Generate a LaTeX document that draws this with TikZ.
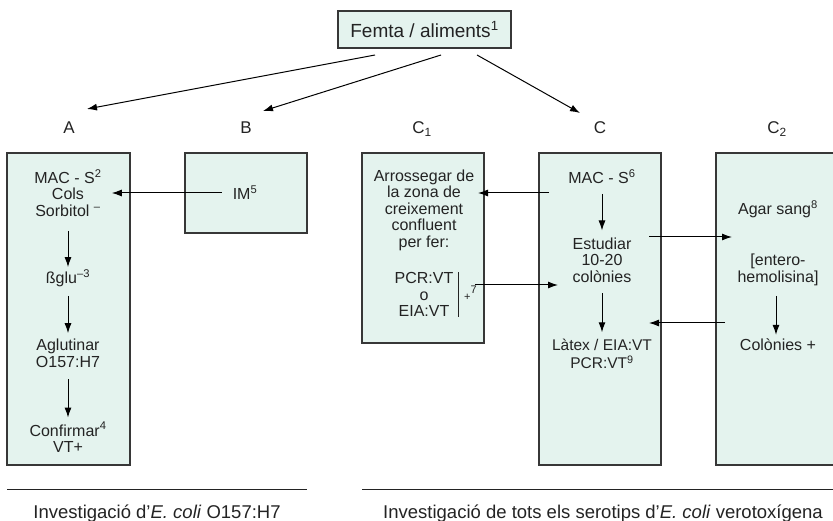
\documentclass[tikz,border=0pt]{standalone}
\usepackage{fontspec}
\setmainfont{Liberation Sans}
\usetikzlibrary{arrows.meta}
\definecolor{boxfill}{RGB}{228,243,238}
\definecolor{boxline}{RGB}{55,55,55}
\definecolor{ink}{RGB}{35,35,35}
\begin{document}
\begin{tikzpicture}[x=1pt,y=-1pt,
  panel/.style={draw=boxline, line width=1.2pt, fill=boxfill, inner sep=0pt, outer sep=0pt, anchor=north west},
  txt/.style={font=\fontsize{16}{16.5}\selectfont, align=center, inner sep=0pt, text=ink},
  lab/.style={font=\fontsize{17}{17}\selectfont, inner sep=0pt, anchor=base, text=ink},
  captext/.style={font=\fontsize{18.5}{18.5}\selectfont, inner sep=0pt, anchor=base, text=ink},
  arr/.style={-{Latex[length=10pt,width=7pt]}, line width=1pt, draw=black},
  rulest/.style={line width=1pt, draw=ink},
]
\useasboundingbox (0,0) rectangle (833,521);

% top box
\node[panel, anchor=center, minimum width=173pt, minimum height=37pt,
      font=\fontsize{19}{19}\selectfont, text=ink] (top) at (424.5,29.5) {Femta / aliments\textsuperscript{1}};

% labels
\node[lab] (lA)  at (69,134)  {A};
\node[lab] (lB)  at (246,134) {B};
\node[lab] (lC1) at (422,134) {C\textsubscript{1}};
\node[lab] (lC)  at (600,134) {C};
\node[lab] (lC2) at (777,134) {C\textsubscript{2}};

% arrows from top
\coordinate (sA) at (375,55);  \coordinate (eA) at (87,109);
\coordinate (sB) at (441,55);  \coordinate (eB) at (263,111);
\coordinate (sC) at (477,55);  \coordinate (eC) at (580,113);
\draw[arr] (sA) -- (eA);
\draw[arr] (sB) -- (eB);
\draw[arr] (sC) -- (eC);

% panels
\node[panel, minimum width=123pt, minimum height=312pt] (pA)  at (7,153) {};
\node[panel, minimum width=122pt, minimum height=80pt]  (pB)  at (185,153) {};
\node[panel, minimum width=122pt, minimum height=190pt] (pC1) at (362,153) {};
\node[panel, minimum width=122pt, minimum height=312pt] (pC)  at (539,153) {};
\node[panel, minimum width=140pt, minimum height=312pt] (pC2) at (716,153) {};

% A column
\node[txt] (a1) at (68,193)   {MAC - S\textsuperscript{2}\\Cols\\Sorbitol \textsuperscript{–}};
\node[txt] (a2) at (68,278)   {ßglu\textsuperscript{–3}};
\node[txt] (a3) at (68,353.5) {Aglutinar\\O157:H7};
\node[txt] (a4) at (68,437.5) {Confirmar\textsuperscript{4}\\VT+};
\draw[arr, shorten <=14pt, shorten >=2pt] (a1) -- (a2);
\draw[arr, shorten <=9pt, shorten >=6pt] (a2) -- (a3);
\draw[arr, shorten <=11.5pt, shorten >=4.5pt] (a3) -- (a4);

% B
\node[txt] (b1) at (245,193) {IM\textsuperscript{5}};
\draw[arr, shorten <=11pt, shorten >=10pt] (b1) -- (a1);

% C1
\node[txt] (k1) at (424,210) {Arrossegar de\\la zona de\\creixement\\confluent\\per fer:};
\node[txt] (k2) at (424,294.5) {PCR:VT\\o\\EIA:VT};
\draw[line width=1pt, draw=ink] ([xshift=5pt]k2.north east) -- ([xshift=5pt]k2.south east);
\node[inner sep=0pt, anchor=base west, font=\fontsize{11}{11}\selectfont, text=ink] (pl) at (464,300.7) {+\raisebox{7.5pt}{7}};

% C
\node[txt] (c1) at (602,177) {MAC - S\textsuperscript{6}};
\node[txt] (c2) at (602,260) {Estudiar\\10-20\\colònies};
\node[txt, font=\fontsize{15.5}{17.5}\selectfont] (c3) at (602,354) {Làtex / EIA:VT\\PCR:VT\textsuperscript{9}};
\draw[arr, shorten <=9.5pt, shorten >=7pt] (c1) -- (c2);
\draw[arr, shorten <=10.5pt, shorten >=7pt] (c2) -- (c3);

% C2
\node[txt] (g1) at (778,209) {Agar sang\textsuperscript{8}};
\node[txt] (g2) at (778,270) {[entero-\\hemolisina]};
\node[txt] (g3) at (778,345) {Colònies +};
\draw[arr, shorten <=10pt, shorten >=4pt] ([xshift=-2pt]g2.south) -- ([xshift=-2pt]g3.north);

% horizontal connectors
\coordinate (hC1a) at (549,193); \coordinate (hC1b) at (478,193);
\coordinate (hC1c) at (475,285); \coordinate (hC1d) at (558,285);
\coordinate (hC2a) at (649,237); \coordinate (hC2b) at (732,237);
\coordinate (hC2c) at (725,323); \coordinate (hC2d) at (649,323);
\draw[arr] (hC1a) -- (hC1b);
\draw[arr] (hC1c) -- (hC1d);
\draw[arr] (hC2a) -- (hC2b);
\draw[arr] (hC2c) -- (hC2d);

% bottom rules and captions
\draw[rulest] (7,489) -- (307,489);
\draw[rulest] (362,489) -- (833,489);
\node[captext] (capL) at (157,518) {Investigació d’\textit{E. coli} O157:H7};
\node[captext] (capR) at (603,518) {Investigació de tots els serotips d’\textit{E. coli} verotoxígena};
\end{tikzpicture}
\end{document}
